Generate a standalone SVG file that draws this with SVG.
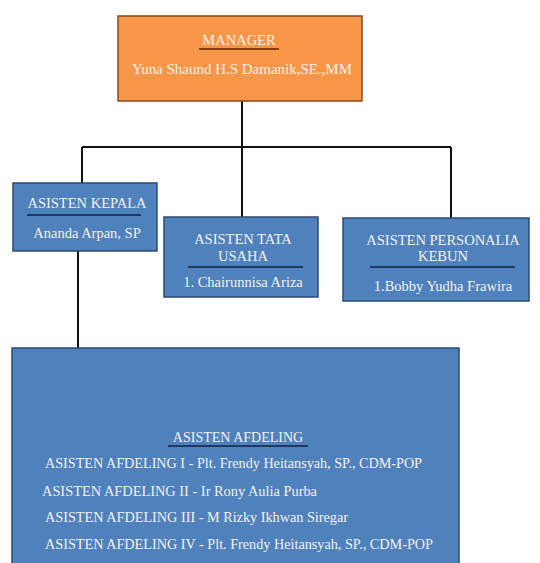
<svg xmlns="http://www.w3.org/2000/svg" width="540" height="563" viewBox="0 0 540 563">
<style>
.t{font-family:"Liberation Serif","Times New Roman",serif;fill:#f4f1ea;font-size:14.5px}
.s{font-size:14px}
.c{text-anchor:middle}
.blue{fill:#4f81bd;stroke:#2c4a70;stroke-width:1.5}
.orange{fill:#f79646;stroke:#8a4a1c;stroke-width:1.5}
.ub{stroke:#1f3864;stroke-width:2}
.uo{stroke:#8a3d0c;stroke-width:2}
.conn{stroke:#111;stroke-width:2;fill:none}
</style>
<rect width="540" height="563" fill="#fff"/>
<g id="connectors">
<path class="conn" d="M242 101V147M82 147H451M82 147V183M242 147V217M451 147V218M78 251V348"/>
</g>
<g id="manager">
<rect class="orange" x="118" y="16" width="244" height="85"/>
<text class="t c" x="239" y="45">MANAGER</text>
<line class="uo" x1="199" y1="49" x2="279" y2="49"/>
<text class="t c" x="242" y="74" textLength="220" lengthAdjust="spacingAndGlyphs">Yuna Shaund H.S Damanik,SE.,MM</text>
</g>
<g id="asisten-kepala">
<rect class="blue" x="13" y="183" width="144" height="68"/>
<text class="t c" x="87" y="208">ASISTEN KEPALA</text>
<line class="ub" x1="27" y1="215" x2="141" y2="215"/>
<text class="t c" x="87" y="238">Ananda Arpan, SP</text>
</g>
<g id="asisten-tata-usaha">
<rect class="blue" x="164" y="217" width="154" height="80"/>
<text class="t c" x="243" y="244">ASISTEN TATA</text>
<text class="t c" x="243" y="261">USAHA</text>
<line class="ub" x1="188" y1="267" x2="303" y2="267"/>
<text class="t c" x="243" y="287">1. Chairunnisa Ariza</text>
</g>
<g id="asisten-personalia">
<rect class="blue" x="343" y="218" width="186" height="83"/>
<text class="t c" x="443" y="245">ASISTEN PERSONALIA</text>
<text class="t c" x="443" y="261">KEBUN</text>
<line class="ub" x1="370" y1="267" x2="515" y2="267"/>
<text class="t c" x="443" y="291">1.Bobby Yudha Frawira</text>
</g>
<g id="asisten-afdeling">
<rect class="blue" x="12" y="348" width="447" height="222"/>
<text class="t s c" x="238" y="442">ASISTEN AFDELING</text>
<line class="ub" x1="168" y1="446" x2="308" y2="446"/>
<text class="t s" x="45" y="468" textLength="377" lengthAdjust="spacingAndGlyphs">ASISTEN AFDELING I - Plt. Frendy Heitansyah, SP., CDM-POP</text>
<text class="t s" x="42" y="496" textLength="275" lengthAdjust="spacingAndGlyphs">ASISTEN AFDELING II - Ir Rony Aulia Purba</text>
<text class="t s" x="45" y="522" textLength="303" lengthAdjust="spacingAndGlyphs">ASISTEN AFDELING III - M Rizky Ikhwan Siregar</text>
<text class="t s" x="45" y="549" textLength="388" lengthAdjust="spacingAndGlyphs">ASISTEN AFDELING IV - Plt. Frendy Heitansyah, SP., CDM-POP</text>
</g>
</svg>
